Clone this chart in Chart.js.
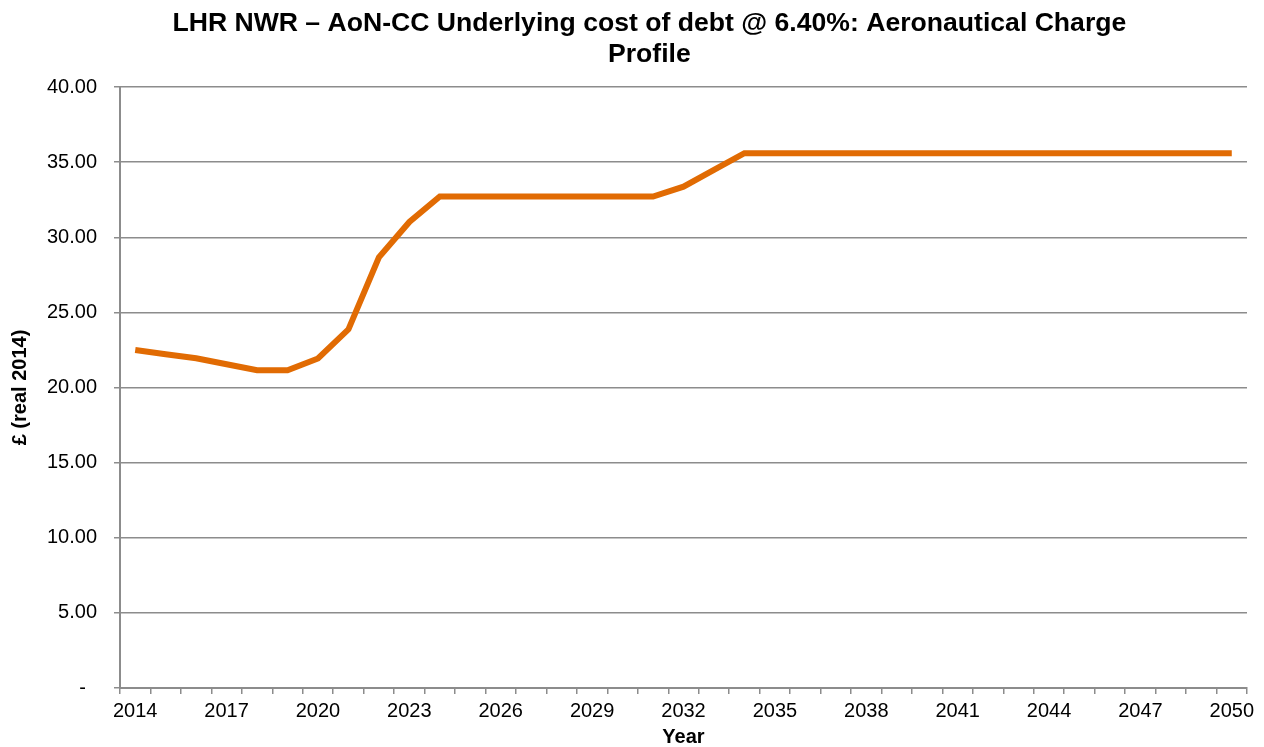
<!DOCTYPE html>
<html>
<head>
<meta charset="utf-8">
<script src="https://cdn.jsdelivr.net/npm/chart.js@4.4.0/dist/chart.umd.min.js"></script>
<style>
  html, body { margin: 0; padding: 0; background: #fff; }
  #wrap { width: 1264px; height: 747px; }
</style>
</head>
<body>
<div id="wrap"><canvas id="chartLHR" width="1264" height="747"></canvas></div>
<script>
// === DONNEES ===
const years = [];
for (let y = 2014; y <= 2050; y++) years.push(String(y));

const chargeValues = [
    22.50, 22.22, 21.95, 21.55, 21.15, 21.15, 21.93, 23.87, 28.67, 31.02,
    32.71, 32.71, 32.71, 32.71, 32.71, 32.71, 32.71, 32.71, 33.37, 34.49,
    35.60, 35.60, 35.60, 35.60, 35.60, 35.60, 35.60, 35.60, 35.60, 35.60,
    35.60, 35.60, 35.60, 35.60, 35.60, 35.60, 35.60
];

const yTicks = [0, 5, 10, 15, 20, 25, 30, 35, 40];

// leading spaces nudge the centred title a bit right, like the original
const titleLines = [
    "       LHR NWR \u2013 AoN-CC Underlying cost of debt @ 6.40%: Aeronautical Charge",
    "       Profile"
];

const FONT = "'Liberation Sans', Arial, sans-serif";
const GRID = "#8c8c8c";

// === GRAPHIQUE ===
let ctx = document.getElementById("chartLHR");

let chart = new Chart(ctx, {
    type: "line",
    data: {
        labels: years,
        datasets: [{
            label: "Aeronautical Charge",
            data: chargeValues,
            borderColor: "#E16B03",
            borderWidth: 6,
            pointRadius: 0,
            tension: 0,
            fill: false
        }]
    },
    options: {
        responsive: false,
        animation: false,
        layout: { padding: { top: 0, right: 17, bottom: 0, left: 0 } },
        plugins: {
            legend: { display: false },
            tooltip: { enabled: false },
            title: {
                display: true,
                text: titleLines,
                color: "#000",
                font: { family: FONT, size: 26.6, weight: "bold", lineHeight: 1.17 },
                padding: { top: 8, bottom: 16.8 }
            }
        },
        scales: {
            x: {
                type: "category",
                offset: true,
                grid: {
                    offset: true,
                    drawOnChartArea: false,
                    drawTicks: true,
                    tickLength: 6,
                    color: GRID,
                    lineWidth: 1.5
                },
                border: { display: true, color: GRID, width: 2 },
                ticks: {
                    autoSkip: false,
                    maxRotation: 0,
                    color: "#000",
                    padding: 5,
                    font: { family: FONT, size: 20 },
                    callback: function (val, i) {
                        return i % 3 === 0 ? years[i] : "";
                    }
                },
                title: {
                    display: true,
                    text: "Year",
                    color: "#000",
                    font: { family: FONT, size: 20, weight: "bold" },
                    padding: { top: 0, bottom: -2 }
                },
                afterFit: function (scale) { scale.height = 59; }
            },
            y: {
                min: 0,
                max: 40,
                afterBuildTicks: function (scale) {
                    scale.ticks = yTicks.map(v => ({ value: v }));
                },
                grid: {
                    color: GRID,
                    lineWidth: 1.5,
                    tickLength: 6
                },
                border: { display: true, color: GRID, width: 2 },
                ticks: {
                    color: "#000",
                    padding: 17,
                    font: { family: FONT, size: 20 },
                    callback: function (v) {
                        return v === 0 ? "-  " : v.toFixed(2);
                    }
                },
                title: {
                    display: true,
                    text: "\u00a3 (real 2014)",
                    color: "#000",
                    font: { family: FONT, size: 20, weight: "bold" },
                    padding: { top: 8, bottom: 0 }
                },
                afterFit: function (scale) { scale.width = 120; }
            }
        }
    }
});
</script>
</body>
</html>
